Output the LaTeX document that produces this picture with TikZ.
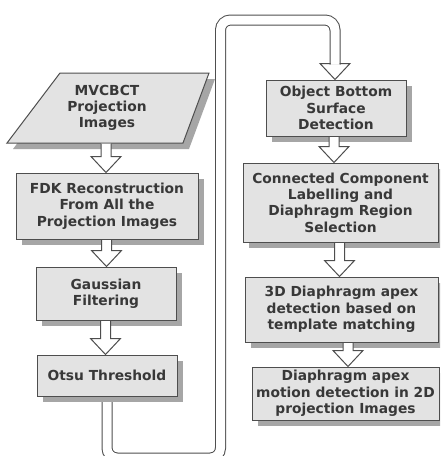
\documentclass[tikz,border=0pt]{standalone}
\usepackage{fontspec}
\setmainfont{DejaVu Sans}
\usetikzlibrary{calc,shadows}
\definecolor{bordc}{HTML}{4E4E4E}
\definecolor{boxfill}{HTML}{E3E3E3}
\definecolor{shadc}{HTML}{A6A6A6}
\definecolor{textc}{HTML}{383838}
\newcommand\blkarrow[3]{%
 \path[draw=bordc, fill=white, line width=1pt, line join=miter] let \p1=(#1), \p2=(#2) in
 ({#3pt-5pt},{\y1-0.6pt}) -- ({#3pt-5pt},{\y2+16pt}) -- ({#3pt-15pt},{\y2+16pt}) -- ({#3pt},\y2)
 -- ({#3pt+15pt},{\y2+16pt}) -- ({#3pt+5pt},{\y2+16pt}) -- ({#3pt+5pt},{\y1-0.6pt});
}
\begin{document}
\begin{tikzpicture}[x=1pt,y=-1pt,
  txt/.style={text=textc, font=\fontsize{13.8}{16.3}\selectfont\bfseries, align=center, inner sep=0pt},
  box/.style={txt, draw=bordc, line width=1pt, fill=boxfill,
    drop shadow={shadow xshift=6pt, shadow yshift=-6pt, fill=shadc, opacity=1}},
  pipeout/.style={draw=bordc, line width=11pt, rounded corners=10pt},
  pipein/.style={draw=white, line width=9pt, rounded corners=10pt}]
\useasboundingbox (0,0) rectangle (440,456);
\clip (0,0) rectangle (440,456);
\fill[white] (0,0) rectangle (440,456);

% coordinates of the pipe
\coordinate (bot) at (0,458);
\coordinate (topy) at (0,20);
\coordinate (pipex) at (220.5,0);

% nodes (placed first so the pipe can refer to them, drawn in order below)
\path (107,375.5) coordinate (otsuc);
\path (335,108) coordinate (objc);
\path (otsuc) ++(0,20.5) coordinate (otsubot);
\path (objc) ++(0,-28) coordinate (objtop);
\path (objtop) ++(0,-16) coordinate (pend);

% pipe
\draw[pipeout] (otsubot) -- (otsubot |- bot) -- (pipex |- bot) -- (pipex |- topy) -- (pend |- topy) -- (pend);
\draw[pipein] (otsubot) -- (otsubot |- bot) -- (pipex |- bot) -- (pipex |- topy) -- (pend |- topy) -- (pend);

% input parallelogram
\fill[shadc] (66,79) -- (215,79) -- (189,149) -- (13,149) -- cycle;
\draw[bordc, fill=boxfill, line width=1pt, line join=miter] (60,73) -- (209,73) -- (183,143) -- (7,143) -- cycle;
\node[txt] (mv) at (107,108) {MVCBCT\\Projection\\Images};
\coordinate (mvb) at (106,143);

% left column
\node[box, minimum width=182pt, minimum height=66pt] (fdk) at (107,206) {FDK Reconstruction\\From All the\\Projection Images};
\node[box, minimum width=140pt, minimum height=53pt] (gauss) at (106,293.5) {Gaussian\\Filtering};
\node[box, minimum width=140pt, minimum height=41pt] (otsu) at (otsuc) {Otsu Threshold};

% right column
\node[box, minimum width=140pt, minimum height=56pt] (obj) at (336,108) {Object Bottom\\Surface\\Detection};
\node[box, minimum width=195pt, minimum height=79pt] (conn) at (340.5,202.5) {Connected Component\\Labelling and\\Diaphragm Region\\Selection};
\node[box, minimum width=193pt, minimum height=65pt] (tdd) at (341.5,309.5) {3D Diaphragm apex\\detection based on\\template matching};
\node[box, minimum width=187pt, minimum height=53pt] (last) at (345.5,393.5) {Diaphragm apex\\motion detection in 2D\\projection Images};

% block arrows
\blkarrow{mvb}{fdk.north}{106}
\blkarrow{fdk.south}{gauss.north}{106.5}
\blkarrow{gauss.south}{otsu.north}{105.5}
\blkarrow{pend}{obj.north}{335}
\blkarrow{obj.south}{conn.north}{334}
\blkarrow{conn.south}{tdd.north}{339.5}
\blkarrow{tdd.south}{last.north}{348}
\end{tikzpicture}
\end{document}
